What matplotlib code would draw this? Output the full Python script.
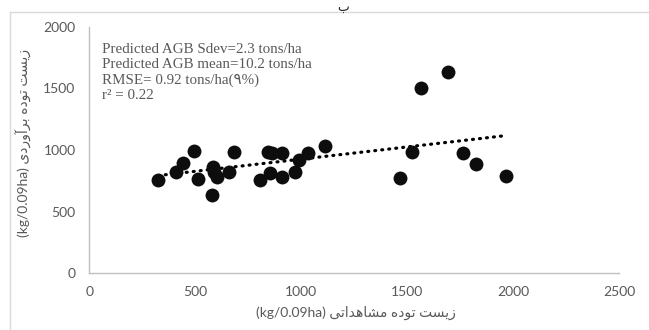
import numpy as np
import matplotlib
matplotlib.use("Agg")
from matplotlib import pyplot as plt
from matplotlib.lines import Line2D

observed = [325, 408, 440, 493, 514, 582, 588, 603, 577, 660, 682, 805, 844, 860,
            852, 907, 907, 970, 991, 1033, 1114, 1691, 1565, 1524, 1466, 1765, 1823, 1965]
predicted = [757, 824, 892, 994, 762, 865, 822, 783, 635, 824, 986, 757, 986, 973,
             811, 973, 783, 824, 919, 973, 1036, 1630, 1505, 986, 775, 978, 884, 789]

xticks = [0, 500, 1000, 1500, 2000, 2500]
yticks = [0, 500, 1000, 1500, 2000]

stats_lines = ["Predicted AGB Sdev=2.3 tons/ha",
               "Predicted AGB mean=10.2 tons/ha",
               "RMSE= 0.92 tons/ha(\u06f9%)",
               "r\u00b2 = 0.22"]

# persian words in visual (left to right) order, already shaped
zist = "\uFE96\uFEB4\uFBFE\uFEAF"
tudeh = "\uFEE9\uFEA9\uFEEE\uFE97"
mashahedati = "\uFBFD\uFE97\uFE8D\uFEAA\uFEEB\uFE8E\uFEB8\uFEE3"
baravardi = "\uFBFC\uFEA9\uFEAD\uFEED\uFE81\uFEAE\uFE91"
xlab = "(kg/0.09ha) " + mashahedati + " " + tudeh + " " + zist
ylab = "(kg/0.09ha) " + baravardi + " " + tudeh + " " + zist

gray = "#595959"
fam = ["Lato", "DejaVu Sans"]

fig = plt.figure(figsize=(6.49, 3.30), dpi=100)
ax = fig.add_axes([0.1379, 0.1718, 0.8159, 0.7473])

x = np.array(observed); y = np.array(predicted)
ax.scatter(x, y, s=100, color="#0d0d0d", linewidths=0, zorder=3)

# linear trendline like excel
a, b = np.polyfit(x, y, 1)
xt = np.array([x.min(), x.max()])
ax.plot(xt, a*xt + b, color="black", lw=2.3, linestyle=(0, (0.3, 1.9)),
        dash_capstyle="round", zorder=2)

ax.set_xlim(0, 2500); ax.set_ylim(0, 2000)
ax.set_xticks(xticks); ax.set_yticks(yticks)
for s in ["top", "right"]:
    ax.spines[s].set_visible(False)
for s in ["left", "bottom"]:
    ax.spines[s].set_color("#bfbfbf")
    ax.spines[s].set_linewidth(1)
ax.tick_params(axis="both", length=0, colors=gray, labelsize=10)
ax.tick_params(axis="y", pad=10)
ax.tick_params(axis="x", pad=9)
for lb in ax.get_xticklabels() + ax.get_yticklabels():
    lb.set_family(fam)

ax.text(0.023, 0.935, "\n".join(stats_lines), transform=ax.transAxes, va="top", ha="left",
        fontsize=10.8, color=gray, linespacing=1.22,
        family=["Liberation Serif", "DejaVu Sans"])

fig.text(356/649, 1 - 313/330, xlab, ha="center", va="center", fontsize=10,
         color=gray, family=fam)
fig.text(24/649, 1 - 143/330, ylab, ha="center", va="center", fontsize=10,
         color=gray, family=fam, rotation=90)

# label at the top of the figure (cropped in the source)
fig.text(343/649, 0.998, "\uFE8F", ha="center", va="top", fontsize=9, color="#222222",
         family=fam)

# chart frame (only top and left edges are inside the picture)
fig.add_artist(Line2D([10/649, 10/649], [0, 1 - 12/330], color="#d9d9d9", lw=1))
fig.add_artist(Line2D([10/649, 1], [1 - 12/330, 1 - 12/330], color="#d9d9d9", lw=1))

fig.savefig("out.png", dpi=100)
